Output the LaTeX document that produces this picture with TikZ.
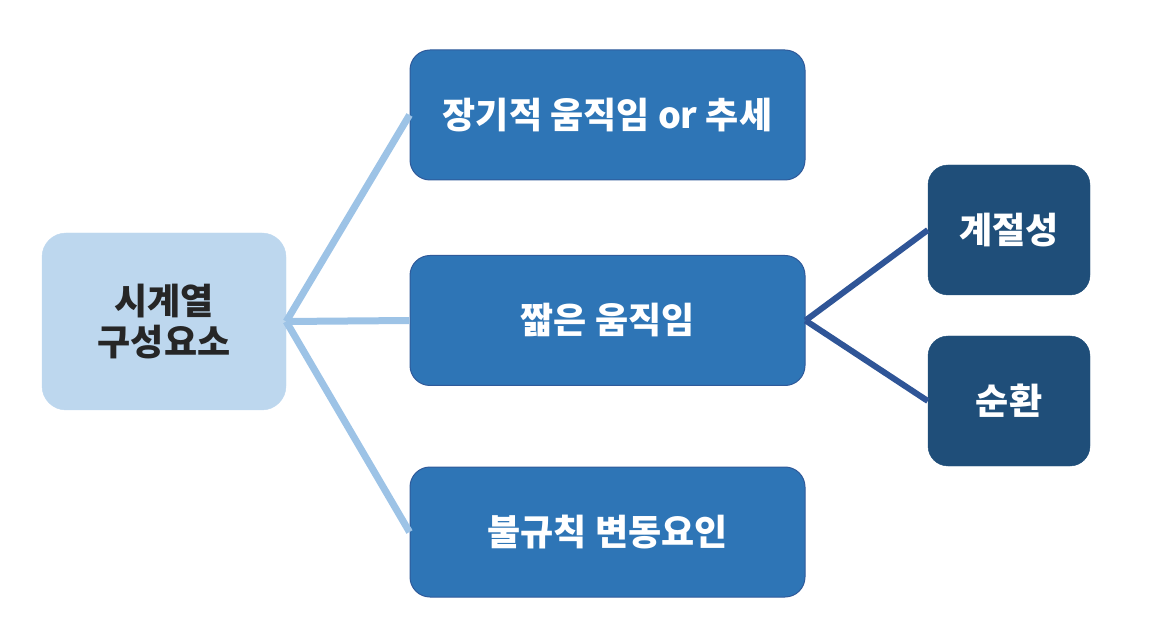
\documentclass[tikz,border=0pt]{standalone}
\usepackage{fontspec}
\setmainfont{Noto Sans CJK KR}
\usepackage{xcolor}
\usetikzlibrary{positioning}
\definecolor{rootfill}{HTML}{BDD7EE}
\definecolor{midfill}{HTML}{2E75B6}
\definecolor{midline}{HTML}{2F5A9A}
\definecolor{leaffill}{HTML}{1F4E79}
\definecolor{lightlink}{HTML}{9DC3E6}
\definecolor{darklink}{HTML}{2F5597}
\tikzset{
  rootbox/.style={rounded corners=24pt, fill=rootfill, draw=rootfill,
    minimum width=244pt, minimum height=177pt, align=center,
    font=\fontsize{36}{41}\selectfont\bfseries, text=black!85},
  midbox/.style={rounded corners=20pt, fill=midfill, draw=midline, line width=1pt,
    minimum width=395pt, minimum height=130pt, align=center,
    font=\fontsize{36}{41}\selectfont\bfseries, text=white},
  leafbox/.style={rounded corners=20pt, fill=leaffill, draw=leaffill,
    minimum width=162pt, minimum height=130pt, align=center,
    font=\fontsize{36}{41}\selectfont\bfseries, text=white},
  lightedge/.style={draw=lightlink, line width=7pt},
  darkedge/.style={draw=darklink, line width=6pt},
}

\begin{document}
\begin{tikzpicture}[x=1pt,y=-1pt]
  \useasboundingbox (0,0) rectangle (1152,628);

  % boxes
  \node[rootbox] (root) at (164,321.5) {시계열\\구성요소};
  \node[midbox] (long) at (607.5,115) {장기적 움직임 or 추세};
  \node[midbox] (short) at (607.5,320.5) {짧은 움직임};
  \node[midbox] (irreg) at (607.5,532) {불규칙 변동요인};
  \node[leafbox] (season) at (1009,230) {계절성};
  \node[leafbox] (cycle) at (1009,401) {순환};

  % links
  \draw[lightedge] (root.east) -- (long.west);
  \draw[lightedge] (root.east) -- (short.west);
  \draw[lightedge] (root.east) -- (irreg.west);

  \draw[darkedge] (short.east) -- (season.west);
  \draw[darkedge] (short.east) -- (cycle.west);
\end{tikzpicture}
\end{document}
